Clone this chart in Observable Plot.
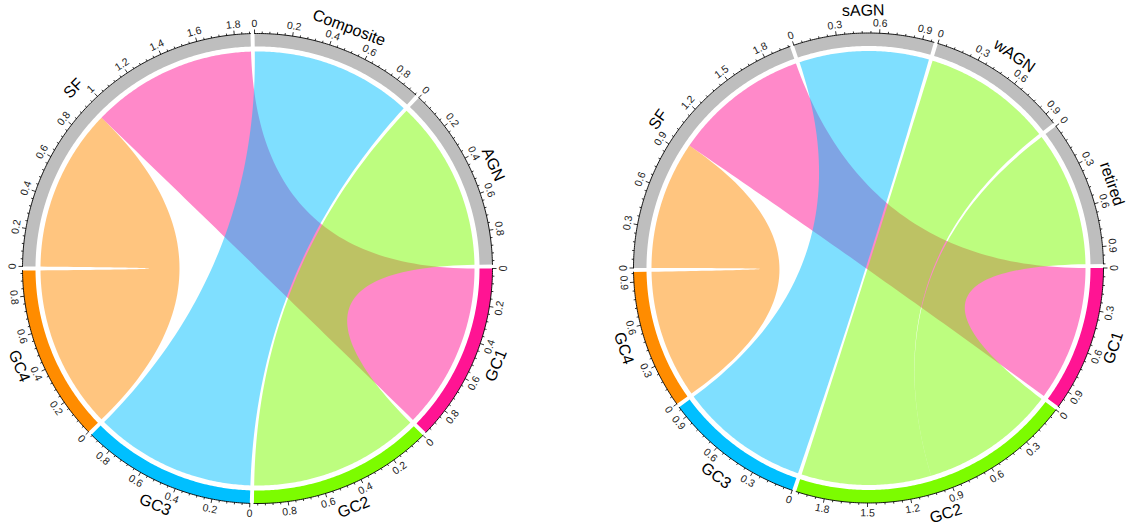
<!DOCTYPE html>
<html><head><meta charset="utf-8">
<script src="https://cdn.jsdelivr.net/npm/d3@7"></script>
<script src="https://cdn.jsdelivr.net/npm/@observablehq/plot@0.6"></script>
<style>html,body{margin:0;padding:0;background:#fff} svg{display:block}</style>
</head><body><div id="chart"></div>
<script>
// ---- Left chord diagram ----
const leftTop = ["SF", "Composite", "AGN"];
const leftBottom = ["GC1", "GC2", "GC3", "GC4"];
const leftFrom = ["GC1", "GC2", "GC3", "GC4"];
const leftTo = ["SF", "AGN", "Composite", "SF"];
const leftValues = [0.95, 0.98, 0.925, 0.935];
const leftTickStep = 0.2;

// ---- Right chord diagram ----
const rightTop = ["SF", "sAGN", "wAGN", "retired"];
const rightBottom = ["GC1", "GC2", "GC3", "GC4"];
const rightFrom = ["GC1", "GC2", "GC2", "GC3", "GC4"];
const rightTo = ["SF", "wAGN", "retired", "sAGN", "SF"];
const rightValues = [1.02, 0.98, 1.02, 0.98, 0.97];
const rightTickStep = 0.3;

const gcColors = {GC1: "#FF1493", GC2: "#7CFC00", GC3: "#00BFFF", GC4: "#FF8C00"};
const topColor = "#BEBEBE";

const W = 1126, H = 529;
const R_CHORD = 217, R_IN = 222, R_OUT = 235, R_LAB = 245, R_NAME = 257.5;
const GAP = 1;
const rad = d => d * Math.PI / 180;

function normRot(phi) {
  let r = phi + 90;
  r = ((r % 360) + 360) % 360;
  if (r > 180) r -= 360;
  if (r > 90) r -= 180;
  if (r < -90) r += 180;
  return r;
}

function build(top, bottom, from, to, values, step, cx, cy, side) {
  const P = (a, r) => [cx + r * Math.cos(rad(a)), cy + r * Math.sin(rad(a))];
  const order = [...bottom, ...top];
  const totals = new Map(order.map(s => [s, 0]));
  from.forEach((f, i) => {
    totals.set(f, totals.get(f) + values[i]);
    totals.set(to[i], totals.get(to[i]) + values[i]);
  });
  const sum = d3.sum(order, s => totals.get(s));
  const k = (360 - GAP * order.length) / sum;
  let a = 0;
  const sectors = order.map(s => {
    const start = a, end = a + totals.get(s) * k;
    a = end + GAP;
    return {name: s, start, end, total: totals.get(s), color: gcColors[s] || topColor};
  });
  const idx = new Map(order.map((s, i) => [s, i]));
  const links = from.map((f, i) => ({from: f, to: to[i], value: values[i], i}));
  const pos = new Map();
  for (const sec of sectors) {
    const mine = links.filter(l => l.from === sec.name || l.to === sec.name)
      .map(l => ({l, partner: l.from === sec.name ? l.to : l.from}))
      .sort((p, q) => idx.get(q.partner) - idx.get(p.partner));
    let p = sec.start;
    for (const {l} of mine) { const e = p + l.value * k; pos.set(l.i + "|" + sec.name, [p, e]); p = e; }
  }
  const arcPts = (a0, a1, r) => {
    const n = Math.max(2, Math.ceil(Math.abs(a1 - a0) / 0.5));
    return d3.range(n + 1).map(j => P(a0 + (a1 - a0) * j / n, r));
  };
  const quad = (p0, p2) => d3.range(1, 60).map(j => {
    const t = j / 60;
    return [(1 - t) * (1 - t) * p0[0] + 2 * (1 - t) * t * cx + t * t * p2[0],
            (1 - t) * (1 - t) * p0[1] + 2 * (1 - t) * t * cy + t * t * p2[1]];
  });
  const ribbons = [];
  for (const l of links) {
    const [s0, s1] = pos.get(l.i + "|" + l.to);
    const [t0, t1] = pos.get(l.i + "|" + l.from);
    const pts = [
      ...arcPts(s0, s1, R_CHORD),
      ...quad(P(s1, R_CHORD), P(t0, R_CHORD)),
      ...arcPts(t0, t1, R_CHORD),
      ...quad(P(t1, R_CHORD), P(s0, R_CHORD))
    ];
    pts.forEach(([x, y]) => ribbons.push({x, y, id: side + l.i, color: gcColors[l.from]}));
  }
  const tracks = [], axes = [], ticks = [], labels = [], names = [];
  for (const sec of sectors) {
    const outer = arcPts(sec.start, sec.end, R_OUT);
    const inner = arcPts(sec.end, sec.start, R_IN);
    [...outer, ...inner].forEach(([x, y]) => tracks.push({x, y, id: side + sec.name, color: sec.color}));
    outer.forEach(([x, y]) => axes.push({x, y, id: side + sec.name}));
    const minor = step / 5;
    const nMinor = Math.floor(sec.total / minor + 1e-6);
    for (let j = 0; j <= nMinor; j++) {
      const v = j * minor;
      const ang = sec.start + v * k;
      const major = j % 5 === 0;
      const [x1, y1] = P(ang, R_OUT);
      const [x2, y2] = P(ang, R_OUT + (major ? 4 : 2));
      ticks.push({x1, y1, x2, y2});
      if (major) {
        const [lx, ly] = P(ang, R_LAB);
        labels.push({x: lx, y: ly, text: String(+v.toFixed(2)), rot: normRot(ang)});
      }
    }
    const mid = (sec.start + sec.end) / 2;
    const [nx, ny] = P(mid, R_NAME);
    names.push({x: nx, y: ny, text: sec.name, rot: normRot(mid)});
  }
  return {ribbons, tracks, axes, ticks, labels, names};
}

const L = build(leftTop, leftBottom, leftFrom, leftTo, leftValues, leftTickStep, 257, 268, "L");
const Rr = build(rightTop, rightBottom, rightFrom, rightTo, rightValues, rightTickStep, 868, 267.5, "R");
const all = key => [...L[key], ...Rr[key]];

const chart = Plot.plot({
  width: W, height: H,
  margin: 0,
  x: {domain: [0, W], range: [0, W], axis: null},
  y: {domain: [0, H], range: [0, H], axis: null},
  color: {type: "identity"},
  style: {fontFamily: "'Liberation Sans', Arial, Helvetica, sans-serif", background: "#fff"},
  marks: [
    Plot.line(all("ribbons"), {x: "x", y: "y", z: "id", fill: "color", fillOpacity: 0.5, stroke: null, curve: "linear-closed"}),
    Plot.line(all("tracks"), {x: "x", y: "y", z: "id", fill: "color", stroke: null, curve: "linear-closed"}),
    Plot.line(all("axes"), {x: "x", y: "y", z: "id", stroke: "#000", strokeWidth: 0.9, fill: null}),
    Plot.link(all("ticks"), {x1: "x1", y1: "y1", x2: "x2", y2: "y2", stroke: "#000", strokeWidth: 0.8}),
    Plot.text(all("labels"), {x: "x", y: "y", text: "text", rotate: "rot", fontSize: 10.5, fill: "#222", textAnchor: "middle", lineAnchor: "middle"}),
    Plot.text(all("names"), {x: "x", y: "y", text: "text", rotate: "rot", fontSize: 16, fill: "#000", textAnchor: "middle", lineAnchor: "middle"})
  ]
});
document.getElementById("chart").appendChild(chart);
</script>
</body></html>
